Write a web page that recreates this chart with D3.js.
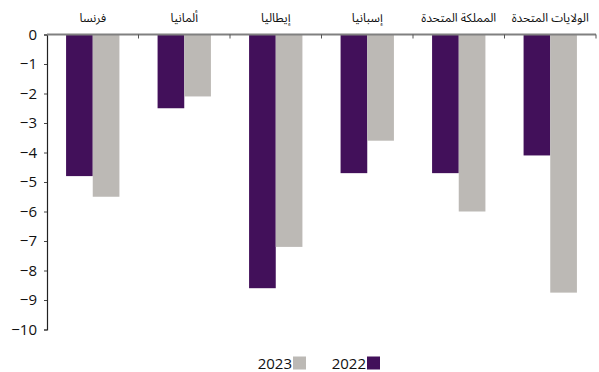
<!DOCTYPE html>
<html lang="ar">
<head>
<meta charset="utf-8">
<script src="https://cdn.jsdelivr.net/npm/d3@7"></script>
<style>
  html, body { margin: 0; padding: 0; background: #fff; }
  svg { display: block; }
  .num { font-family: "Open Sans", "Segoe UI", sans-serif; font-size: 15px; fill: #111; }
  .cat { font-family: "Noto Sans Arabic", "DejaVu Sans", sans-serif; font-size: 12px; fill: #111; }
</style>
</head>
<body>
<svg id="chart" width="599" height="372"></svg>
<script>
// Budget balance by country (% of GDP)
const categories = ["فرنسا", "ألمانيا", "إيطاليا", "إسبانيا", "المملكة المتحدة", "الولايات المتحدة"];
const values2022 = [-4.8, -2.5, -8.6, -4.7, -4.7, -4.1];
const values2023 = [-5.5, -2.1, -7.2, -3.6, -6.0, -8.75];
const seriesNames = ["2022", "2023"];
const seriesColors = ["#42105A", "#BCB9B5"];
const yTicks = [0, -1, -2, -3, -4, -5, -6, -7, -8, -9, -10];

const series = [values2022, values2023];
const svg = d3.select("#chart");

const x = d3.scaleBand()
  .domain(categories)
  .range([47, 596])
  .paddingInner(0.417)
  .paddingOuter(0.2085);

const xInner = d3.scaleBand()
  .domain(seriesNames)
  .range([0, x.bandwidth()]);

const y = d3.scaleLinear()
  .domain([-10, 0])
  .range([329.5, 34.5]);

// bars
const groups = svg.append("g").selectAll("g")
  .data(categories)
  .join("g")
  .attr("transform", d => `translate(${x(d)},0)`);

groups.selectAll("rect")
  .data((d, i) => series.map((s, j) => ({ name: seriesNames[j], value: s[i], color: seriesColors[j] })))
  .join("rect")
  .attr("x", d => xInner(d.name))
  .attr("y", y(0))
  .attr("width", xInner.bandwidth())
  .attr("height", d => y(d.value) - y(0))
  .attr("fill", d => d.color);

// y axis
const yAxis = svg.append("g")
  .attr("transform", "translate(47,0)")
  .call(d3.axisLeft(y).tickValues(yTicks).tickSize(3).tickPadding(7).tickFormat(d3.format("d")));
yAxis.select(".domain").attr("stroke", "#222").attr("stroke-width", 1.2);
yAxis.selectAll(".tick line").attr("stroke", "#444");
yAxis.selectAll("text").attr("class", "num").attr("font-size", null).attr("font-family", null);

// zero line with category separators
const zero = svg.append("g").attr("transform", `translate(0,${y(0)})`);
zero.append("line")
  .attr("x1", 47).attr("x2", 596)
  .attr("stroke", "#808080").attr("stroke-width", 2);
const seps = categories.map(c => x(c) - x.step() * x.paddingInner() / 2).slice(1).concat([596]);
zero.selectAll("line.sep")
  .data(seps)
  .join("line")
  .attr("class", "sep")
  .attr("x1", d => d).attr("x2", d => d)
  .attr("y1", 0).attr("y2", 4)
  .attr("stroke", "#555").attr("stroke-width", 1);

// category labels above the plot
svg.append("g").selectAll("text")
  .data(categories)
  .join("text")
  .attr("class", "cat")
  .attr("x", d => x(d) + x.bandwidth() / 2)
  .attr("y", 22)
  .attr("text-anchor", "middle")
  .attr("direction", "rtl")
  .text(d => d);

// legend (right-to-left: 2022 first)
const legend = svg.append("g").attr("transform", "translate(0,363)");
const legendItems = [
  { name: seriesNames[0], color: seriesColors[0], sq: 367 },
  { name: seriesNames[1], color: seriesColors[1], sq: 293 }
];
const li = legend.selectAll("g").data(legendItems).join("g");
li.append("rect")
  .attr("x", d => d.sq).attr("y", -6.5)
  .attr("width", 13).attr("height", 13)
  .attr("fill", d => d.color);
li.append("text")
  .attr("class", "num")
  .attr("x", d => d.sq - 1)
  .attr("y", 5.5)
  .attr("text-anchor", "end")
  .text(d => d.name);
</script>
</body>
</html>
